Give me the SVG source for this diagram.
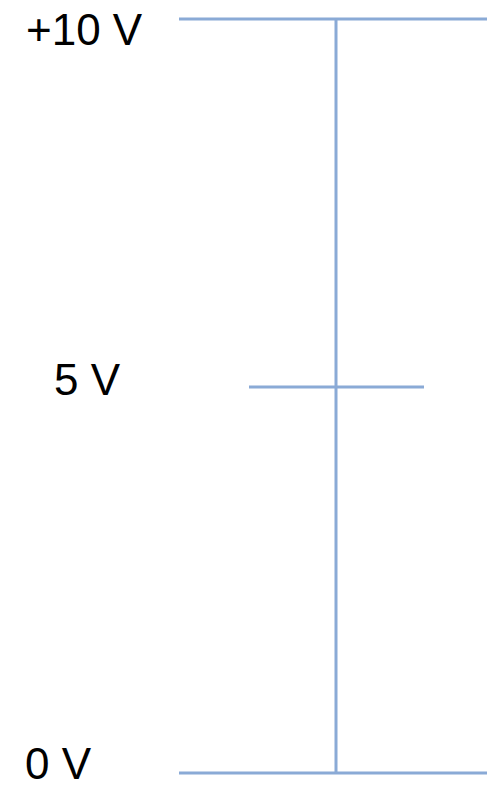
<svg xmlns="http://www.w3.org/2000/svg" width="487" height="787" viewBox="0 0 487 787">
<style>
.ln{stroke:#8AAAD6;stroke-width:3;fill:none}
.lb{font-family:"Liberation Sans",Arial,sans-serif;font-size:44px;fill:#000}
</style>
<rect width="487" height="787" fill="#fff"/>
<g id="connectors">
<line class="ln" x1="179" y1="19" x2="487" y2="19"/>
<line class="ln" x1="336" y1="19" x2="336" y2="773"/>
<line class="ln" x1="249" y1="387" x2="424" y2="387"/>
<line class="ln" x1="179" y1="773" x2="487" y2="773"/>
</g>
<g id="label-10v"><text class="lb" x="26" y="45">+10 V</text></g>
<g id="label-5v"><text class="lb" x="54" y="395">5 V</text></g>
<g id="label-0v"><text class="lb" x="25" y="779">0 V</text></g>
</svg>
